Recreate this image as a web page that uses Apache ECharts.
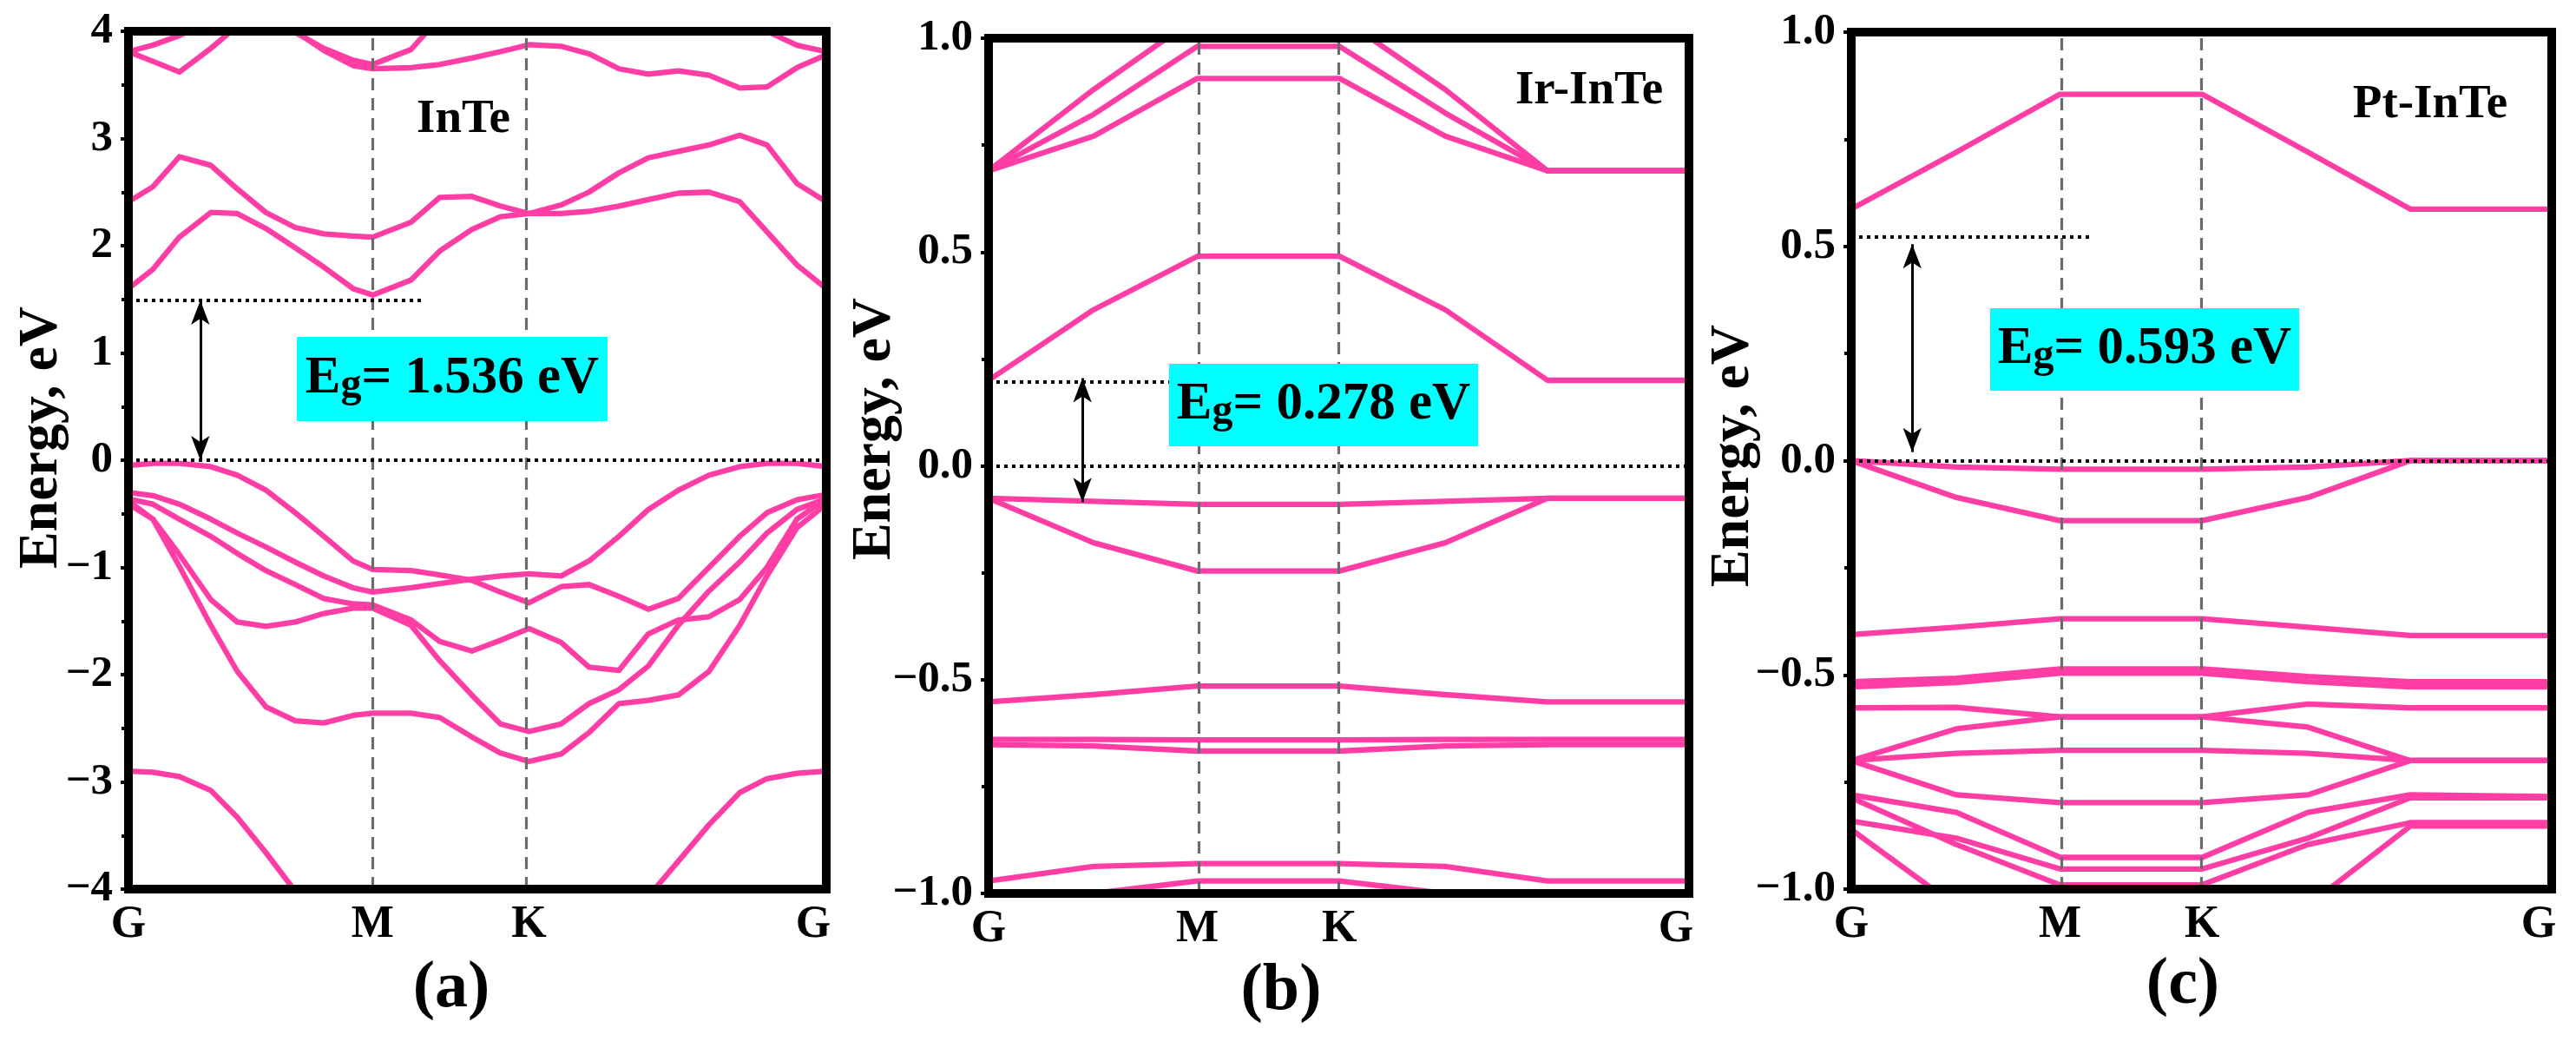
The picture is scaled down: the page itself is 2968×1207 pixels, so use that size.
<!DOCTYPE html>
<html>
<head>
<meta charset="utf-8">
<title>Band structures: InTe, Ir-InTe, Pt-InTe</title>
<script src="https://cdn.jsdelivr.net/npm/echarts@6/dist/echarts.min.js"></script>
<style>
html, body { margin: 0; padding: 0; background: #fff; }
#main { width: 2968px; height: 1207px; }
</style>
</head>
<body>
<div id="main"></div>
<script>
"use strict";
// k-path positions along G-M-K-G (fraction of path length)
const kInTe = [0, 0.035, 0.073, 0.118, 0.156, 0.197, 0.239, 0.28, 0.322, 0.35, 0.405, 0.446, 0.492,
               0.533, 0.574, 0.62, 0.66, 0.703, 0.745, 0.788, 0.832, 0.876, 0.915, 0.958, 1];
const kDoped = [0, 0.15, 0.298, 0.501, 0.652, 0.798, 1];
const kTickInTe = [0, 0.35, 0.574, 1];
const kTickDoped = [0, 0.298, 0.501, 1];
const kNames = ['G', 'M', 'K', 'G'];

// (a) InTe bands, eV
const inteT1 = [3.81, 3.87, 3.96, 4.10, null, null, null, null, null, null, null, null, null, null, null, null, null, null, null, null, null, null, null, null, null];
const inteT2 = [3.81, 3.72, 3.62, 3.84, 4.05, null, null, null, null, null, null, null, null, null, null, null, null, null, null, null, null, null, null, null, null];
const inteT3 = [null, null, null, null, null, null, 3.99, 3.84, 3.73, 3.69, 3.83, 4.13, null, null, null, null, null, null, null, null, null, null, null, null, null];
const inteT4 = [null, null, null, null, null, 4.17, 4.00, 3.82, 3.68, 3.65, 3.66, 3.69, 3.75, 3.81, 3.875, 3.86, 3.79, 3.65, 3.60, 3.63, 3.59, 3.47, 3.48, 3.66, 3.78];
const inteT5 = [null, null, null, null, null, null, null, null, null, null, null, null, null, null, null, null, null, null, null, null, null, null, 4.00, 3.87, 3.81];
const inteC2 = [2.41, 2.55, 2.83, 2.75, 2.53, 2.31, 2.17, 2.11, 2.09, 2.08, 2.22, 2.45, 2.46, 2.37, 2.30, 2.38, 2.50, 2.68, 2.82, 2.88, 2.94, 3.03, 2.94, 2.58, 2.41];
const inteC1 = [1.60, 1.78, 2.08, 2.31, 2.30, 2.16, 1.98, 1.80, 1.60, 1.54, 1.68, 1.95, 2.15, 2.27, 2.30, 2.30, 2.32, 2.37, 2.43, 2.49, 2.50, 2.41, 2.13, 1.82, 1.60];
const inteV1 = [-0.05, -0.03, -0.03, -0.06, -0.14, -0.28, -0.49, -0.71, -0.94, -1.02, -1.03, -1.07, -1.12, -1.23, -1.33, -1.18, -1.16, -1.27, -1.39, -1.29, -1.00, -0.71, -0.49, -0.37, -0.32];
const inteV2 = [-0.30, -0.33, -0.41, -0.55, -0.68, -0.81, -0.95, -1.08, -1.19, -1.23, -1.19, -1.15, -1.11, -1.08, -1.06, -1.08, -0.94, -0.71, -0.46, -0.28, -0.14, -0.06, -0.03, -0.03, -0.06];
const inteV3 = [-0.36, -0.41, -0.55, -0.71, -0.87, -1.03, -1.16, -1.29, -1.34, -1.35, -1.49, -1.69, -1.78, -1.68, -1.57, -1.70, -1.93, -1.96, -1.62, -1.49, -1.46, -1.30, -1.00, -0.55, -0.36];
const inteV4 = [-0.38, -0.55, -0.88, -1.30, -1.51, -1.55, -1.51, -1.43, -1.38, -1.38, -1.54, -1.87, -2.19, -2.46, -2.53, -2.46, -2.27, -2.14, -1.92, -1.54, -1.22, -0.95, -0.68, -0.46, -0.36];
const inteV5 = [-0.41, -0.55, -0.99, -1.54, -1.97, -2.30, -2.43, -2.45, -2.38, -2.36, -2.36, -2.40, -2.58, -2.73, -2.81, -2.74, -2.54, -2.27, -2.24, -2.19, -1.97, -1.54, -1.08, -0.63, -0.41];
const inteV6 = [-2.90, -2.91, -2.95, -3.08, -3.33, -3.66, -4.02, null, null, null, null, null, null, null, null, null, null, null, -4.07, -3.74, -3.40, -3.10, -2.97, -2.92, -2.90];

// (b) Ir-InTe bands, eV
const irB1 = [0.69, 0.88, 1.05, 1.05, 0.88, 0.69, 0.69];
const irB2 = [0.69, 0.822, 0.981, 0.981, 0.825, 0.69, 0.69];
const irB3 = [0.69, 0.771, 0.906, 0.906, 0.771, 0.69, 0.69];
const irB4 = [0.20, 0.365, 0.49, 0.49, 0.365, 0.20, 0.20];
const irB5 = [-0.076, -0.083, -0.09, -0.09, -0.083, -0.076, -0.076];
const irB6 = [-0.076, -0.18, -0.246, -0.246, -0.18, -0.076, -0.076];
const irB7 = [-0.552, -0.535, -0.515, -0.515, -0.535, -0.552, -0.552];
const irB8 = [-0.64, -0.64, -0.641, -0.641, -0.64, -0.64, -0.64];
const irB9 = [-0.652, -0.655, -0.667, -0.667, -0.655, -0.652, -0.652];
const irB10 = [-0.971, -0.937, -0.930, -0.930, -0.937, -0.971, -0.971];
const irB11 = [-1.06, -1.0, -0.971, -0.971, -1.0, -1.06, -1.06];

// (c) Pt-InTe bands, eV
const ptB1 = [0.587, 0.72, 0.855, 0.855, 0.72, 0.587, 0.587];
const ptB2 = [0, -0.015, -0.02, -0.02, -0.015, 0, 0];
const ptB3 = [0, -0.086, -0.14, -0.14, -0.086, 0, 0];
const ptB4 = [-0.406, -0.389, -0.369, -0.369, -0.389, -0.408, -0.408];
const ptB5 = [-0.516, -0.508, -0.486, -0.486, -0.504, -0.516, -0.516];
const ptB6 = [-0.528, -0.518, -0.496, -0.496, -0.516, -0.528, -0.528];
const ptB7 = [-0.577, -0.576, -0.598, -0.598, -0.568, -0.577, -0.577];
const ptB8 = [-0.70, -0.626, -0.598, -0.598, -0.622, -0.70, -0.70];
const ptB9 = [-0.70, -0.683, -0.676, -0.676, -0.683, -0.70, -0.70];
const ptB10 = [-0.70, -0.78, -0.798, -0.798, -0.78, -0.70, -0.70];
const ptB11 = [-0.78, -0.821, -0.926, -0.926, -0.821, -0.78, -0.784];
const ptB12 = [-0.787, -0.896, -0.99, -0.99, -0.896, -0.845, -0.845];
const ptB13 = [-0.841, -0.881, -0.953, -0.953, -0.881, -0.787, -0.787];
const ptB14 = [-0.861, -1.04, null, null, -1.038, -0.853, -0.853];

// gap markers: [k of arrow, arrow top, arrow bottom, CBM level, end of CBM dotted line]
const gapInTe = [0.103, 1.49, 0, 1.49, 0.42];
const gapIr = [0.134, 0.205, -0.085, 0.197, 0.30];
const gapPt = [0.087, 0.505, 0.02, 0.522, 0.341];
const gapText = ['1.536', '0.278', '0.593'];
const names = ['InTe', 'Ir-InTe', 'Pt-InTe'];
const panelTags = ['(a)', '(b)', '(c)'];

const PINK = '#ff3ea5';
const SERIF = "'Liberation Serif', 'Times New Roman', serif";

let myChart = echarts.init(document.getElementById('main'), null, {renderer: 'canvas'});

const grids = [
    {left: 148, top: 36, width: 804, height: 988},
    {left: 1139, top: 44, width: 807, height: 985},
    {left: 2133, top: 37, width: 807, height: 987}
];

function minus(s) { return String(s).replace('-', '\u2212'); }

function bandSeries(idx, k, bands) {
    return bands.map(function (b) {
        return {
            type: 'line', xAxisIndex: idx, yAxisIndex: idx,
            data: k.map(function (x, i) { return [x, b[i]]; }),
            showSymbol: false, symbol: 'none', clip: true, silent: true,
            connectNulls: false, animation: false, z: 2,
            lineStyle: {color: PINK, width: 6.3, join: 'round'}
        };
    });
}

function guideSeries(idx, ticks, gap) {
    return [{
        type: 'line', xAxisIndex: idx, yAxisIndex: idx, data: [], z: 3,
        markLine: {
            silent: true, symbol: 'none', animation: false, label: {show: false},
            lineStyle: {color: '#6b6b6b', type: [14, 9], width: 3.2},
            data: [{xAxis: ticks[1]}, {xAxis: ticks[2]}]
        }
    }, {
        type: 'line', xAxisIndex: idx, yAxisIndex: idx, data: [], z: 3,
        markLine: {
            silent: true, symbol: 'none', animation: false, label: {show: false},
            lineStyle: {color: '#000', type: [4, 5], width: 4},
            data: [{yAxis: 0}, [{coord: [0, gap[3]]}, {coord: [gap[4], gap[3]]}]]
        }
    }, {
        type: 'line', xAxisIndex: idx, yAxisIndex: idx, data: [], z: 4,
        markLine: {
            silent: true, symbol: ['arrow', 'arrow'], symbolSize: [16, 28], animation: false,
            label: {show: false},
            lineStyle: {color: '#000', type: 'solid', width: 3},
            data: [[{coord: [gap[0], gap[1]]}, {coord: [gap[0], gap[2]]}]]
        }
    }];
}

const frameLine = {show: true, onZero: false, lineStyle: {color: '#000', width: 10, cap: 'square'}};

function xAxes() {
    const tickSets = [kTickInTe, kTickDoped, kTickDoped];
    const bottom = tickSets.map(function (ticks, i) {
        return {
            gridIndex: i, type: 'value', min: 0, max: 1, position: 'bottom', z: 5,
            axisLine: frameLine, axisTick: {show: false}, splitLine: {show: false},
            axisLabel: {
                customValues: ticks, margin: 16, color: '#000',
                fontFamily: SERIF, fontWeight: 'bold', fontSize: 52,
                formatter: function (v) {
                    let j = ticks.findIndex(function (t) { return Math.abs(t - v) < 1e-6; });
                    if (j === 3) return '{r|G}';
                    return j >= 0 ? kNames[j] : '';
                },
                rich: {r: {fontFamily: SERIF, fontWeight: 'bold', fontSize: 52, color: '#000', padding: [0, 30, 0, 0]}}
            }
        };
    });
    const top = [0, 1, 2].map(function (i) {
        return {
            gridIndex: i, type: 'value', min: 0, max: 1, position: 'top', z: 5,
            axisLine: frameLine, axisTick: {show: false}, axisLabel: {show: false}, splitLine: {show: false}
        };
    });
    return bottom.concat(top);
}

function yAxes() {
    const ranges = [[-4, 4, 1, 0], [-1, 1, 0.5, 1], [-1, 1, 0.5, 1]];
    const left = ranges.map(function (r, i) {
        return {
            gridIndex: i, type: 'value', min: r[0], max: r[1], interval: r[2], position: 'left', z: 5,
            axisLine: frameLine,
            axisTick: {show: true, inside: false, length: 9, lineStyle: {color: '#000', width: 4}},
            minorTick: {show: true, splitNumber: 2, length: 8, lineStyle: {color: '#000', width: 4}},
            splitLine: {show: false}, minorSplitLine: {show: false},
            axisLabel: {
                margin: 18, color: '#000', fontFamily: SERIF, fontWeight: 'bold', fontSize: 51,
                formatter: function (v) { return minus(r[3] ? v.toFixed(1) : v); }
            }
        };
    });
    const right = [0, 1, 2].map(function (i) {
        return {
            gridIndex: i, type: 'value', min: ranges[i][0], max: ranges[i][1], position: 'right', z: 5,
            axisLine: frameLine, axisTick: {show: false}, axisLabel: {show: false}, splitLine: {show: false}
        };
    });
    return left.concat(right);
}

// annotation boxes, titles, panel tags (pixel layout)
const egBoxes = [[342, 388, 358, 97], [1347, 419, 356, 95], [2293, 355, 356, 95]];
const namePos = [[534, 138], [1831, 105], [2800, 121]];
const tagPos = [[520, 1139], [1476, 1142], [2515, 1135]];
const yTitlePos = [[48, 504], [1008, 494], [1997, 525]];

function graphics() {
    let g = [];
    egBoxes.forEach(function (b, i) {
        g.push({type: 'rect', z: 20, shape: {x: b[0], y: b[1], width: b[2], height: b[3]}, style: {fill: '#00ffff'}});
        g.push({
            type: 'text', z: 21, x: b[0] + b[2] / 2, y: b[1] + b[3] / 2,
            style: {
                text: '{m|E}{s|g}{m|= ' + gapText[i] + ' eV}', align: 'center', verticalAlign: 'middle',
                rich: {
                    m: {fontFamily: SERIF, fontWeight: 'bold', fontSize: 61, lineHeight: 64, fill: '#000'},
                    s: {fontFamily: SERIF, fontWeight: 'bold', fontSize: 48, lineHeight: 48, verticalAlign: 'bottom', fill: '#000'}
                }
            }
        });
    });
    names.forEach(function (n, i) {
        g.push({type: 'text', z: 21, x: namePos[i][0], y: namePos[i][1],
            style: {text: n, align: 'center', verticalAlign: 'middle', fontFamily: SERIF, fontWeight: 'bold', fontSize: 55, fill: '#000'}});
    });
    panelTags.forEach(function (t, i) {
        g.push({type: 'text', z: 21, x: tagPos[i][0], y: tagPos[i][1],
            style: {text: t, align: 'center', verticalAlign: 'middle', fontFamily: SERIF, fontWeight: 'bold', fontSize: 76, fill: '#000'}});
    });
    yTitlePos.forEach(function (p) {
        g.push({type: 'text', z: 21, x: p[0], y: p[1], rotation: Math.PI / 2,
            style: {text: 'Energy, eV', align: 'center', verticalAlign: 'middle', fontFamily: SERIF, fontWeight: 'bold', fontSize: 64, fill: '#000'}});
    });
    return g;
}

function drawChart() {
    let series = [].concat(
        bandSeries(0, kInTe, [inteT1, inteT2, inteT3, inteT4, inteT5, inteC2, inteC1, inteV1, inteV2, inteV3, inteV4, inteV5, inteV6]),
        bandSeries(1, kDoped, [irB1, irB2, irB3, irB4, irB5, irB6, irB7, irB8, irB9, irB10, irB11]),
        bandSeries(2, kDoped, [ptB1, ptB2, ptB3, ptB4, ptB5, ptB6, ptB7, ptB8, ptB9, ptB10, ptB11, ptB12, ptB13, ptB14]),
        guideSeries(0, kTickInTe, gapInTe),
        guideSeries(1, kTickDoped, gapIr),
        guideSeries(2, kTickDoped, gapPt)
    );
    let option = {
        backgroundColor: '#fff',
        animation: false,
        grid: grids,
        xAxis: xAxes(),
        yAxis: yAxes(),
        series: series,
        graphic: graphics()
    };
    myChart.setOption(option);
}

drawChart();
</script>
</body>
</html>
